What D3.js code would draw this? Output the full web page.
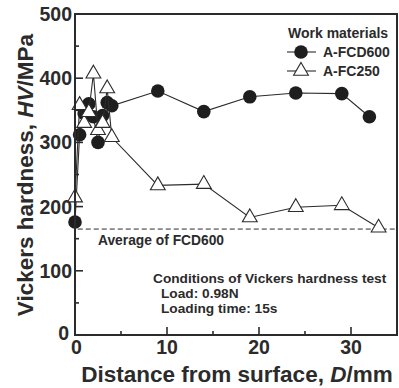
<!DOCTYPE html>
<html><head><meta charset="utf-8">
<script src="https://cdn.jsdelivr.net/npm/d3@7"></script>
<style>body{margin:0;background:#fff}svg{display:block}text{font-family:"Liberation Sans",Arial,sans-serif;font-weight:bold;fill:#2b2b2b}</style>
</head><body><div id="c"></div>
<script>
const fcdDist = [0, 0.5, 1, 1.5, 2, 2.5, 3, 3.5, 4, 9, 14, 19, 24, 29, 32];
const fcdHV   = [176, 312, 345, 360, 340, 300, 342, 362, 357, 380, 348, 371, 377, 376, 340];
const fcDist  = [0, 0.5, 1, 1.5, 2, 2.5, 3, 3.5, 4, 9, 14, 19, 24, 29, 33];
const fcHV    = [214, 358, 330, 347, 407, 319, 330, 384, 308, 233, 235, 183, 199, 202, 167];
const avgFCD = 165;
const xTicks = [0, 10, 20, 30];
const xMinor = [5, 15, 25];
const yTicks = [0, 100, 200, 300, 400, 500];
const yMinor = [50, 150, 250, 350, 450];
const seriesNames = ["A-FCD600", "A-FC250"];

const W = 399, H = 388;
const L = 75, R = 397, T = 14, B = 335;
const svg = d3.select("#c").append("svg").attr("width", W).attr("height", H);
const x = d3.scaleLinear().domain([0, 35]).range([L, R]);
const y = d3.scaleLinear().domain([0, 500]).range([B, T]);
const ink = "#2b2b2b";

// ticks (inward)
const ax = svg.append("g").attr("stroke", ink).attr("stroke-width", 1.6);
xTicks.forEach(t => ax.append("line").attr("x1", x(t)).attr("x2", x(t)).attr("y1", B).attr("y2", B - 8));
xMinor.forEach(t => ax.append("line").attr("x1", x(t)).attr("x2", x(t)).attr("y1", B).attr("y2", B - 4));
yTicks.forEach(t => ax.append("line").attr("x1", L).attr("x2", L + 8).attr("y1", y(t)).attr("y2", y(t)));
yMinor.forEach(t => ax.append("line").attr("x1", L).attr("x2", L + 4).attr("y1", y(t)).attr("y2", y(t)));

// tick labels
svg.append("g").selectAll("text").data(xTicks).join("text")
  .attr("x", d => x(d) + (d === 0 ? 1.5 : 0)).attr("y", 354).attr("text-anchor", "middle")
  .attr("font-size", 19.5).text(d => d);
svg.append("g").selectAll("text").data(yTicks).join("text")
  .attr("x", d => d === 0 ? 69 : 72).attr("y", d => y(d) + 7 - (d === 0 ? 2 : 0)).attr("text-anchor", "end")
  .attr("font-size", 19.5).text(d => d);

// axis titles
const xt = svg.append("text").attr("x", 237).attr("y", 382).attr("text-anchor", "middle").attr("font-size", 22.5);
xt.append("tspan").text("Distance from surface, ");
xt.append("tspan").attr("font-style", "italic").text("D");
xt.append("tspan").text("/mm");
const yt = svg.append("text").attr("transform", "translate(33,175) rotate(-90)").attr("text-anchor", "middle").attr("font-size", 22.5);
yt.append("tspan").text("Vickers hardness, ");
yt.append("tspan").attr("font-style", "italic").text("HV");
yt.append("tspan").text("/MPa");

// average dashed line
svg.append("line").attr("x1", x(0.3)).attr("x2", R).attr("y1", y(avgFCD)).attr("y2", y(avgFCD))
  .attr("stroke", ink).attr("stroke-width", 1).attr("stroke-dasharray", "5,3");
svg.append("text").attr("x", 98).attr("y", 245).attr("font-size", 13.8).text("Average of FCD600");

// conditions text
svg.append("text").attr("x", 153).attr("y", 283).attr("font-size", 13.7).text("Conditions of Vickers hardness test");
svg.append("text").attr("x", 161).attr("y", 298).attr("font-size", 13.7).text("Load: 0.98N");
svg.append("text").attr("x", 161).attr("y", 313).attr("font-size", 13.7).text("Loading time: 15s");

const line = d3.line().x(d => x(d[0])).y(d => y(d[1]));
const fcd = fcdDist.map((d, i) => [d, fcdHV[i]]);
const fc = fcDist.map((d, i) => [d, fcHV[i]]);
const tri = d3.symbol().type(d3.symbolTriangle).size(95);

svg.append("path").datum(fcd).attr("d", line).attr("fill", "none").attr("stroke", ink).attr("stroke-width", 1.1);
svg.append("g").selectAll("circle").data(fcd).join("circle")
  .attr("cx", d => x(d[0])).attr("cy", d => y(d[1])).attr("r", 6.8).attr("fill", "#1e1e1e");
svg.append("path").datum(fc).attr("d", line).attr("fill", "none").attr("stroke", ink).attr("stroke-width", 1.1);
svg.append("g").selectAll("path").data(fc).join("path")
  .attr("transform", d => `translate(${x(d[0])},${y(d[1])})`).attr("d", tri)
  .attr("fill", "#fff").attr("stroke", ink).attr("stroke-width", 1.1);

// legend
svg.append("text").attr("x", 288).attr("y", 38).attr("font-size", 14).text("Work materials");
const lg = svg.append("g");
lg.append("line").attr("x1", 287).attr("x2", 316).attr("y1", 52).attr("y2", 52).attr("stroke", ink).attr("stroke-width", 1.1);
lg.append("circle").attr("cx", 301).attr("cy", 52).attr("r", 6.8).attr("fill", "#1e1e1e");
lg.append("text").attr("x", 323).attr("y", 57).attr("font-size", 14).text(seriesNames[0]);
lg.append("line").attr("x1", 287).attr("x2", 316).attr("y1", 71).attr("y2", 71).attr("stroke", ink).attr("stroke-width", 1.1);
lg.append("path").attr("transform", "translate(301,71)").attr("d", tri).attr("fill", "#fff").attr("stroke", ink).attr("stroke-width", 1.1);
lg.append("text").attr("x", 323).attr("y", 76).attr("font-size", 14).text(seriesNames[1]);

// frame
svg.append("rect").attr("x", L).attr("y", T).attr("width", R - L).attr("height", B - T)
  .attr("fill", "none").attr("stroke", ink).attr("stroke-width", 2);
</script></body></html>
